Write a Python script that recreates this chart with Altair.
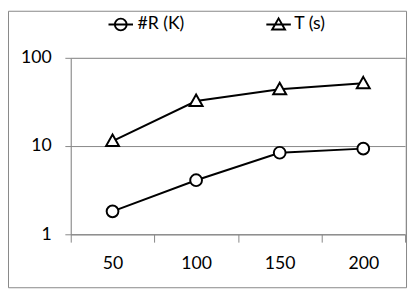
import altair as alt
import pandas as pd

categories = ["50", "100", "150", "200"]
r_values = [1.82, 4.1, 8.4, 9.35]
t_values = [11.4, 32.4, 44.0, 51.4]
series_names = ["#R (K)", "T (s)"]

df = pd.DataFrame({
    "x": categories * 2,
    "v": r_values + t_values,
    "s": [series_names[0]] * 4 + [series_names[1]] * 4,
})

GRAY = "#868686"
FONT = "Lato"
FS = 18
W, H = 341, 180

tri_path = "M0,-1.1L1.1,0.85L-1.1,0.85Z"
leg_circle = "M-1,0L1,0M0.48,0A0.48,0.48,0,1,1,-0.48,0A0.48,0.48,0,1,1,0.48,0"
leg_tri = "M-1,0L1,0M0,-0.5L0.52,0.4L-0.52,0.4Z"

xenc = alt.X("x:N", sort=categories,
             scale=alt.Scale(paddingInner=0, paddingOuter=0),
             axis=alt.Axis(title=None, labelAngle=0, tickBand="extent",
                           domainColor=GRAY, tickColor=GRAY, tickSize=8,
                           labelPadding=13, labelFont=FONT, labelFontSize=FS,
                           labelColor="black", grid=False))
yenc = alt.Y("v:Q",
             scale=alt.Scale(type="log", domain=[1, 100]),
             axis=alt.Axis(title=None, values=[1, 10, 100], format="d",
                           domain=True, domainColor=GRAY, tickColor=GRAY,
                           tickSize=6, labelPadding=14, labelFont=FONT,
                           labelFontSize=FS, labelColor="black",
                           grid=True, gridColor=GRAY))

base = alt.Chart(df)
lines = base.mark_line(color="black", strokeWidth=2).encode(
    x=xenc, y=yenc, detail="s:N")
points = base.mark_point(filled=True, fill="white", stroke="black",
                         strokeWidth=2, size=144, opacity=1).encode(
    x=alt.X("x:N", sort=categories), y="v:Q",
    shape=alt.Shape("s:N", scale=alt.Scale(domain=series_names,
                                           range=["circle", tri_path]),
                    legend=None))

one = pd.DataFrame({"a": [0]})
leg1 = alt.Chart(one).mark_point(shape=leg_circle, size=625, stroke="black",
                                 strokeWidth=2, fill=None, opacity=1).encode(
    x=alt.value(51), y=alt.value(-34))
leg1t = alt.Chart(one).mark_text(text=series_names[0], font=FONT, fontSize=FS,
                                 align="left", baseline="middle", color="black").encode(
    x=alt.value(68), y=alt.value(-34))
leg2 = alt.Chart(one).mark_point(shape=leg_tri, size=625, stroke="black",
                                 strokeWidth=2, fill=None, opacity=1).encode(
    x=alt.value(212), y=alt.value(-34))
leg2t = alt.Chart(one).mark_text(text=series_names[1], font=FONT, fontSize=FS,
                                 align="left", baseline="middle", color="black").encode(
    x=alt.value(228), y=alt.value(-34))
border = alt.Chart(one).mark_rect(fill=None, stroke=GRAY, strokeWidth=1).encode(
    x=alt.value(-63.5), x2=alt.value(342.5), y=alt.value(-47.5), y2=alt.value(234.5))

chart = alt.layer(lines, points, leg1, leg1t, leg2, leg2t, border).properties(
    width=W, height=H, autosize="none",
    padding={"left": 64, "top": 48, "right": 3, "bottom": 55},
).configure_view(stroke=None).configure(background="white")

chart.save("out.html", embed_options={"renderer": "svg", "actions": False})
